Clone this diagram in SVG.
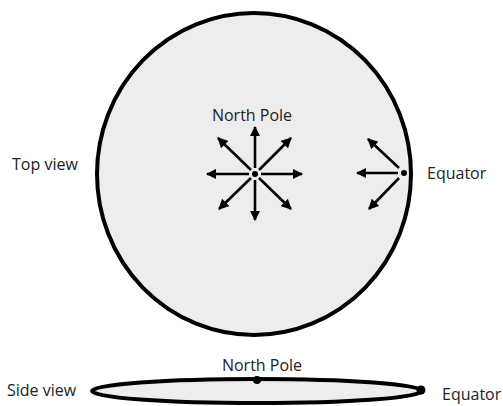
<svg xmlns="http://www.w3.org/2000/svg" width="503" height="406" viewBox="0 0 503 406">
<style>
.lbl{font-family:"Open Sans","DejaVu Sans",sans-serif;font-size:16px;fill:#222}
.body{fill:#ededed;stroke:#000;stroke-width:4}
.arr{stroke:#000;stroke-width:2.6;fill:none;marker-end:url(#ah)}
</style>
<defs>
<marker id="ah" viewBox="0 0 10 10" refX="9" refY="5" markerWidth="4" markerHeight="4" orient="auto" markerUnits="strokeWidth">
<path d="M0,0 L10,5 L0,10 Z" fill="#000"/>
</marker>
</defs>
<rect width="503" height="406" fill="#fff"/>
<g id="top-view">
<ellipse class="body" cx="254" cy="174" rx="157" ry="161"/>
<text class="lbl" x="12" y="170">Top view</text>
</g>
<g id="north-pole-top">
<circle cx="255" cy="174" r="3" fill="#000"/>
<text class="lbl" x="252" y="121" text-anchor="middle">North Pole</text>
</g>
<g id="equator-top">
<circle cx="404" cy="173" r="3" fill="#000"/>
<text class="lbl" x="427" y="179">Equator</text>
</g>
<g id="side-view">
<ellipse class="body" cx="257" cy="391" rx="165" ry="12" stroke-width="5"/>
<circle cx="257" cy="380" r="4" fill="#000"/>
<circle cx="421" cy="390" r="4.5" fill="#000"/>
<text class="lbl" x="7" y="396">Side view</text>
<text class="lbl" x="262" y="371" text-anchor="middle">North Pole</text>
<text class="lbl" x="442" y="400">Equator</text>
</g>
<g id="connectors">
<line class="arr" x1="255" y1="168" x2="255" y2="127"/>
<line class="arr" x1="255" y1="180" x2="255" y2="220"/>
<line class="arr" x1="249" y1="174" x2="207" y2="174"/>
<line class="arr" x1="261" y1="174" x2="302" y2="174"/>
<line class="arr" x1="251" y1="170" x2="218" y2="138"/>
<line class="arr" x1="259" y1="170" x2="291" y2="138"/>
<line class="arr" x1="251" y1="178" x2="219" y2="209"/>
<line class="arr" x1="259" y1="178" x2="291" y2="209"/>
<line class="arr" x1="398" y1="173" x2="357" y2="173"/>
<line class="arr" x1="399" y1="168" x2="368" y2="139"/>
<line class="arr" x1="399" y1="178" x2="369" y2="209"/>
</g>
</svg>
